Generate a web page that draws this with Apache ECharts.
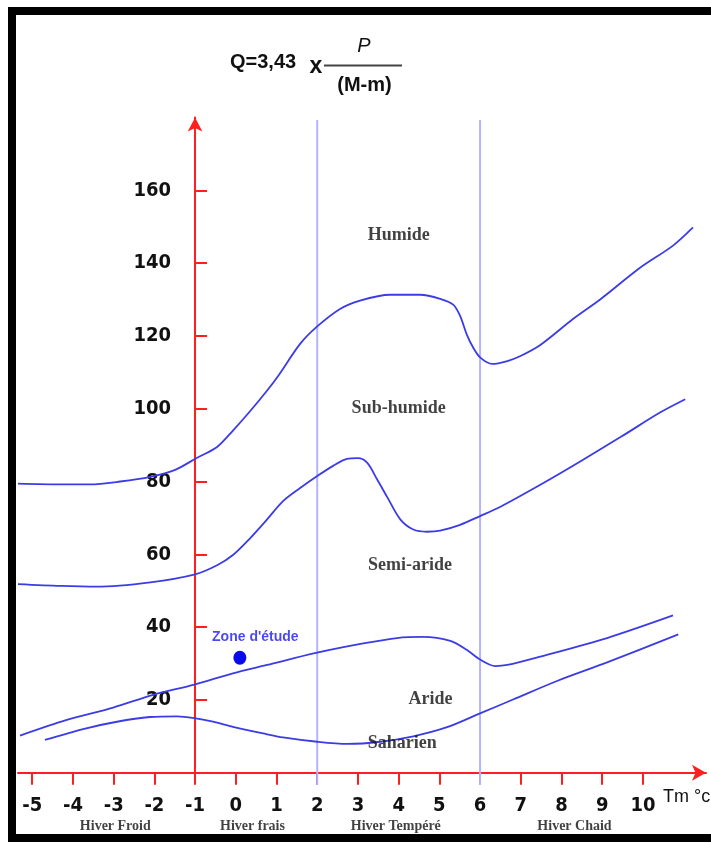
<!DOCTYPE html>
<html>
<head>
<meta charset="utf-8">
<title>Climagramme d'Emberger</title>
<script src="https://cdn.jsdelivr.net/npm/echarts@6/dist/echarts.min.js"></script>
<style>
  html, body { margin: 0; padding: 0; background: #ffffff; }
  #chart { width: 711px; height: 842px; }
</style>
</head>
<body>
<div id="chart"></div>
<script>
// Limits between bioclimatic stages: [Tm (°C), Q2]
const humideLimit = [
  [-5.35, 79.4], [-4.31, 79.2], [-3.58, 79.2], [-2.84, 80.0], [-2.1, 81.3], [-1.49, 83.2],
  [-0.97, 86.4], [-0.46, 89.5], [-0.07, 94.0], [0.35, 99.3], [0.77, 105.0], [1.04, 109.0],
  [1.58, 117.8], [2.0, 122.6], [2.56, 127.4], [3.05, 129.7], [3.79, 131.3], [4.53, 131.3],
  [5.02, 130.2], [5.34, 128.6], [5.51, 125.5], [5.68, 120.2], [5.83, 116.8], [6.0, 114.1],
  [6.3, 112.3], [6.67, 113.1], [6.98, 114.4], [7.48, 117.5], [8.29, 124.7], [8.95, 130.0],
  [9.93, 138.7], [10.74, 144.8], [11.23, 149.8]
];
const subHumideLimit = [
  [-5.35, 51.8], [-4.31, 51.3], [-3.41, 51.1], [-2.1, 52.3], [-1.0, 54.5], [-0.46, 57.0],
  [-0.07, 59.8], [0.35, 64.4], [0.77, 69.6], [1.16, 74.6], [1.58, 78.2], [2.0, 81.5],
  [2.39, 84.3], [2.73, 86.2], [3.0, 86.4], [3.23, 85.1], [3.47, 80.6], [3.72, 75.7],
  [4.04, 69.6], [4.36, 66.8], [4.7, 66.2], [5.02, 66.5], [5.51, 68.1], [6.0, 70.5],
  [6.49, 73.0], [7.48, 79.1], [8.46, 85.5], [9.45, 92.2], [10.43, 99.0], [11.04, 102.6]
];
const semiArideLimit = [
  [-5.3, 10.2], [-4.15, 14.5], [-3.01, 17.9], [-2.03, 21.4], [-1.02, 24.2], [-0.07, 27.3],
  [0.77, 29.6], [1.97, 32.9], [3.13, 35.5], [3.96, 37.0], [4.6, 37.3], [5.27, 36.2],
  [5.68, 33.7], [6.0, 31.1], [6.37, 29.3], [6.67, 29.6], [7.48, 31.9], [9.12, 37.0],
  [10.74, 43.2]
];
const arideLimit = [
  [-4.69, 9.0], [-3.75, 12.0], [-2.92, 14.0], [-2.11, 15.3], [-1.44, 15.5], [-1.02, 15.0],
  [-0.56, 14.0], [-0.07, 12.6], [0.67, 10.8], [1.16, 9.7], [2.0, 8.5], [2.74, 7.9],
  [3.55, 8.5], [4.36, 10.0], [5.19, 12.5], [6.0, 16.3], [6.81, 20.1], [7.89, 25.2],
  [9.12, 30.3], [10.87, 38.0]
];

// Study site
const studySite = [0.1, 31.6];
const studySiteName = "Zone d'étude";
const studySiteLabelAt = [0.48, 37.3];

// Winter variants separated at Tm = 2 and 6 °C
const winterBounds = [2, 6];
const winterBoundExtent = [-3.4, 179.3];

// Stage names and where they are written
const stageNames = ['Humide', 'Sub-humide', 'Semi-aride', 'Aride', 'Saharien'];
const stageLabelAt = [[4.0, 147.7], [4.0, 100.2], [4.28, 57.0], [4.78, 20.1], [4.09, 8.0]];

const winterNames = ['Hiver Froid', 'Hiver frais', 'Hiver Tempéré', 'Hiver Chaid'];
const winterLabelAt = [[-2.96, -14.8], [0.41, -14.8], [3.93, -14.8], [8.32, -14.8]];

// Axis ticks
const tmTicks = [-5, -4, -3, -2, -1, 0, 1, 2, 3, 4, 5, 6, 7, 8, 9, 10];
const qTicks = [20, 40, 60, 80, 100, 120, 140, 160];
const qAxisAtTm = -1;

const X_MIN = -5.35, X_MAX = 11.55;
const Y_MIN = 0, Y_MAX = 180;

const GRID = { left: 18, right: 5, top: 117.5, bottom: 69.3 };
const CHART_W = 711;

const RED = '#ff1f1f';
const CURVE = '#3c3ce6';
const numFont = "'Liberation Sans Narrow', 'DejaVu Sans Condensed', 'Liberation Sans', sans-serif";
const serif = "'Liberation Serif', 'DejaVu Serif', serif";

const chart = echarts.init(document.getElementById('chart'), null, { renderer: 'canvas' });

// Q2 axis stands at Tm = -1: shift it inward from the grid's left edge
const gridW = CHART_W - GRID.left - GRID.right;
const qAxisShift = (qAxisAtTm - X_MIN) / (X_MAX - X_MIN) * gridW;

function limitSeries(data) {
  return {
    type: 'line', data: data, smooth: 0.3, symbol: 'none', silent: true,
    lineStyle: { color: CURVE, width: 1.8 }, z: 3
  };
}

const series = [
  limitSeries(humideLimit),
  limitSeries(subHumideLimit),
  limitSeries(semiArideLimit),
  limitSeries(arideLimit)
];

winterBounds.forEach(function (t) {
  series.push({
    type: 'line', data: [[t, winterBoundExtent[0]], [t, winterBoundExtent[1]]],
    symbol: 'none', silent: true, clip: false, z: 1,
    lineStyle: { color: '#b3b3ff', width: 2 }
  });
});

series.push({
  type: 'scatter', data: [studySite], symbolSize: [13, 14], z: 5,
  itemStyle: { color: '#0a0aee', opacity: 1 }, silent: true
});

series.push({
  type: 'scatter', symbolSize: 0, silent: true, clip: false, z: 6,
  data: [{ name: studySiteName, value: studySiteLabelAt }],
  label: {
    show: true, position: 'inside', formatter: function (p) { return p.name; },
    color: '#1a1aee', fontFamily: "'Liberation Sans', Arial, sans-serif",
    fontWeight: 'bold', fontSize: 14
  }
});

series.push({
  type: 'scatter', symbolSize: 0, silent: true, clip: false, z: 6,
  data: stageNames.map(function (n, i) { return { name: n, value: stageLabelAt[i] }; }),
  label: {
    show: true, position: 'inside', formatter: function (p) { return p.name; },
    color: '#111111', fontFamily: serif, fontWeight: 'bold', fontSize: 18
  }
});

series.push({
  type: 'scatter', symbolSize: 0, silent: true, clip: false, z: 6,
  data: winterNames.map(function (n, i) { return { name: n, value: winterLabelAt[i] }; }),
  label: {
    show: true, position: 'inside', formatter: function (p) { return p.name; },
    color: '#111111', fontFamily: serif, fontWeight: 'bold', fontSize: 14
  }
});

const option = {
  animation: false,
  backgroundColor: '#ffffff',
  grid: { left: GRID.left, right: GRID.right, top: GRID.top, bottom: GRID.bottom,
    containLabel: false, outerBoundsMode: 'none' },
  xAxis: {
    type: 'value', min: X_MIN, max: X_MAX,
    axisLine: { show: true, onZero: false, lineStyle: { color: RED, width: 2 },
      symbol: ['none', 'arrow'], symbolSize: [12, 14] },
    axisTick: { show: true, length: 12, lineStyle: { color: RED, width: 2 }, customValues: tmTicks },
    axisLabel: { show: true, customValues: tmTicks, margin: 23, color: '#111111',
      fontFamily: numFont, fontWeight: 'bold', fontSize: 20 },
    splitLine: { show: false }
  },
  yAxis: {
    type: 'value', min: Y_MIN, max: Y_MAX, offset: -qAxisShift,
    axisLine: { show: true, onZero: false, lineStyle: { color: RED, width: 2 },
      symbol: ['none', 'arrow'], symbolSize: [11, 14] },
    axisTick: { show: true, inside: true, length: 12, lineStyle: { color: RED, width: 2 }, customValues: qTicks },
    axisLabel: { show: true, customValues: qTicks, margin: 24, color: '#111111',
      fontFamily: numFont, fontWeight: 'bold', fontSize: 20 },
    splitLine: { show: false }
  },
  graphic: [
    // frame
    { type: 'rect', shape: { x: 8, y: 7, width: 703, height: 8 }, style: { fill: '#000' }, silent: true },
    { type: 'rect', shape: { x: 8, y: 7, width: 8, height: 835 }, style: { fill: '#000' }, silent: true },
    { type: 'rect', shape: { x: 8, y: 834, width: 703, height: 8 }, style: { fill: '#000' }, silent: true },
    // formula Q = 3,43 x P / (M - m)
    { type: 'text', x: 230, y: 62.5, silent: true,
      style: { text: 'Q=3,43', fill: '#111', font: "bold 20px 'Liberation Sans', Arial, sans-serif",
        align: 'left', verticalAlign: 'middle', textAlign: 'left', textVerticalAlign: 'middle' } },
    { type: 'text', x: 316, y: 67, silent: true,
      style: { text: 'x', fill: '#111', font: "bold 23px 'Liberation Sans', Arial, sans-serif",
        align: 'center', verticalAlign: 'middle', textAlign: 'center', textVerticalAlign: 'middle' } },
    { type: 'line', shape: { x1: 324, y1: 65.5, x2: 402, y2: 65.5 }, style: { stroke: '#444', lineWidth: 2 }, silent: true },
    { type: 'text', x: 364, y: 46, silent: true,
      style: { text: 'P', fill: '#111', font: "italic 20px 'Liberation Sans', Arial, sans-serif",
        align: 'center', verticalAlign: 'middle', textAlign: 'center', textVerticalAlign: 'middle' } },
    { type: 'text', x: 364.5, y: 85, silent: true,
      style: { text: '(M-m)', fill: '#111', font: "bold 20px 'Liberation Sans', Arial, sans-serif",
        align: 'center', verticalAlign: 'middle', textAlign: 'center', textVerticalAlign: 'middle' } },
    // x axis name
    { type: 'text', x: 663, y: 797.5, silent: true,
      style: { text: 'Tm °c', fill: '#111', font: "18px 'Liberation Sans', Arial, sans-serif",
        align: 'left', verticalAlign: 'middle', textAlign: 'left', textVerticalAlign: 'middle' } }
  ],
  series: series
};

chart.setOption(option);
</script>
</body>
</html>
